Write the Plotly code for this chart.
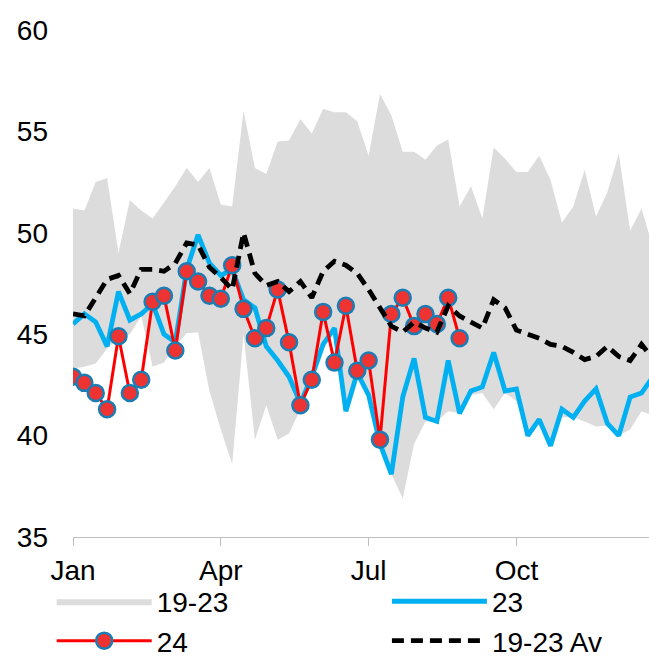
import plotly.graph_objects as go

weeks = list(range(52))

band_upper = [51.2, 51.1, 52.5, 52.7, 49.0, 51.6, 51.1, 50.7, 51.5, 52.3,
              53.2, 52.5, 53.2, 51.4, 51.3, 56.0, 53.2, 52.9, 54.5, 54.55,
              55.6, 54.9, 56.1, 55.95, 55.95, 55.5, 53.8, 56.85, 55.8, 54.0,
              54.0, 53.6, 54.3, 54.6, 51.3, 52.3, 50.7, 54.2, 53.65, 53.0,
              53.0, 53.8, 52.6, 50.5, 51.3, 53.1, 50.8, 52.0, 53.9, 50.1,
              51.2, 49.3]

band_lower = [43.3, 43.4, 43.55, 44.3, 44.8, 45.0, 45.9, 43.4, 43.6, 44.4,
              45.05, 45.1, 42.2, 40.3, 38.6, 45.0, 39.8, 41.5, 39.8, 40.1,
              41.3, 42.6, 44.3, 45.2, 41.2, 42.9, 41.9, 39.7, 38.1, 36.9,
              39.6, 40.7, 40.7, 41.2, 41.1, 42.0, 42.1, 41.3, 42.1, 41.7,
              40.0, 40.8, 39.5, 40.9, 40.9, 40.7, 40.45, 40.5, 40.0, 40.3,
              41.2, 41.0]

y23 = [45.5, 46.0, 45.6, 44.4, 47.1, 45.7, 46.0, 46.5, 45.0, 44.6,
       48.2, 49.9, 48.5, 47.9, 48.2, 46.7, 46.3, 44.4, 43.7, 42.9,
       41.6, 42.9, 44.5, 45.3, 41.2, 43.1, 42.0, 39.6, 38.1, 41.9,
       43.8, 40.9, 40.7, 43.7, 41.1, 42.2, 42.4, 44.1, 42.2, 42.3,
       40.0, 40.8, 39.5, 41.3, 40.9, 41.7, 42.3, 40.6, 40.0, 41.9,
       42.1, 42.9]

y24 = [42.9, 42.6, 42.1, 41.3, 44.9, 42.1, 42.75, 46.6, 46.9, 44.2,
       48.1, 47.6, 46.9, 46.75, 48.4, 46.25, 44.8, 45.3, 47.2, 44.6,
       41.5, 42.75, 46.1, 43.6, 46.4, 43.2, 43.7, 39.8, 46.0, 46.8,
       45.4, 46.0, 45.5, 46.8, 44.8]

avg = [46.0, 45.9, 46.8, 47.7, 47.9, 47.0, 48.2, 48.2, 48.1, 48.5,
       49.5, 49.4, 48.3, 47.8, 47.2, 50.0, 48.0, 47.4, 47.6, 47.1,
       47.6, 46.8, 48.1, 48.6, 48.4, 48.0, 47.2, 46.3, 45.4, 45.1,
       45.6, 45.3, 45.1, 46.4, 45.9, 45.6, 45.3, 46.7, 46.3, 45.2,
       45.0, 44.8, 44.5, 44.4, 44.1, 43.75, 43.9, 44.4, 43.9, 43.7,
       44.5, 43.8]

tick_vals = [0, 13, 26, 39]
tick_text = ["Jan", "Apr", "Jul", "Oct"]

FONT = "Liberation Sans, Arial, sans-serif"

fig = go.Figure()
fig.add_trace(go.Scatter(x=weeks, y=band_upper, mode="lines",
                         line=dict(width=0, color="#DCDCDC"),
                         showlegend=False, hoverinfo="skip", legend="legend"))
fig.add_trace(go.Scatter(x=weeks, y=band_lower, mode="lines", name="19-23",
                         line=dict(width=0, color="#DCDCDC"),
                         fill="tonexty", fillcolor="#DCDCDC", legend="legend"))
fig.add_trace(go.Scatter(x=weeks, y=y23, mode="lines", name="23",
                         line=dict(width=4.8, color="#00B0F0"),
                         legend="legend2"))
fig.add_trace(go.Scatter(x=weeks[:len(y24)], y=y24, mode="lines+markers", name="24",
                         line=dict(width=3, color="#FF0000"),
                         marker=dict(size=16, color="#EE3333",
                                     line=dict(width=2.5, color="#1A7DB4")),
                         legend="legend"))
fig.add_trace(go.Scatter(x=weeks, y=avg, mode="lines", name="19-23 Av",
                         line=dict(width=4.8, color="#000000", dash="12px,7px"),
                         legend="legend2"))

fig.update_layout(
    width=649, height=657,
    margin=dict(l=73, r=0, t=29.5, b=119.5, autoexpand=False),
    paper_bgcolor="white", plot_bgcolor="white",
    font=dict(family=FONT, size=28, color="black"),
    legend=dict(x=-0.037, xanchor="left", y=-0.078, yanchor="top",
                orientation="v", itemwidth=95, font=dict(size=28),
                traceorder="normal",
                bgcolor="rgba(0,0,0,0)", tracegroupgap=0),
    legend2=dict(x=0.545, xanchor="left", y=-0.078, yanchor="top",
                 orientation="v", itemwidth=95, font=dict(size=28),
                 traceorder="normal",
                 bgcolor="rgba(0,0,0,0)", tracegroupgap=0),
)
fig.update_xaxes(range=[0, 50.66], tickvals=tick_vals, ticktext=tick_text,
                 showgrid=False, zeroline=False, showline=True,
                 linecolor="#BFBFBF", linewidth=1.3, ticks="outside",
                 ticklen=8, tickcolor="#BFBFBF", tickwidth=1.3,
                 ticklabelstandoff=0, tickfont=dict(size=28))
fig.update_yaxes(range=[35, 60], tickvals=[35, 40, 45, 50, 55, 60],
                 showgrid=False, zeroline=False, showline=False, ticks="",
                 ticklabelstandoff=24, tickfont=dict(size=28))

fig.write_html("out.html",
               config={"displayModeBar": False},
               post_script="document.body.style.margin='0';"
                           "document.body.style.overflow='hidden';")
